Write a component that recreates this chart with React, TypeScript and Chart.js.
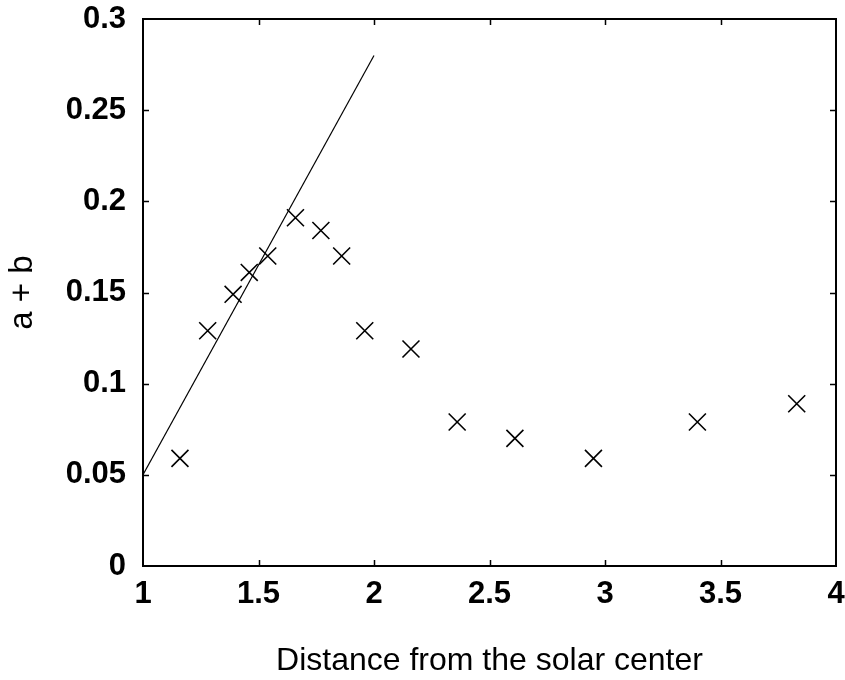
import { useEffect, useRef } from 'react';
import { Chart, registerables } from 'chart.js';

Chart.register(...registerables);

// Measured points (distance from the solar center, a + b)
const distance = [1.16, 1.28, 1.39, 1.46, 1.54, 1.66, 1.77, 1.86, 1.96, 2.16, 2.36, 2.61, 2.95, 3.4, 3.83];
const aPlusB = [0.059, 0.129, 0.149, 0.161, 0.17, 0.191, 0.184, 0.17, 0.129, 0.119, 0.079, 0.07, 0.059, 0.079, 0.089];

// Straight fitted line
const fitX = [1, 2];
const fitY = [0.05, 0.28];

// Axis ticks
const xTickValues = [1, 1.5, 2, 2.5, 3, 3.5, 4];
const xTickLabels = ['1', '1.5', '2', '2.5', '3', '3.5', '4'];
const yTickValues = [0, 0.05, 0.1, 0.15, 0.2, 0.25, 0.3];
const yTickLabels = ['0', '0.05', '0.1', '0.15', '0.2', '0.25', '0.3'];

const FONT = "'Liberation Sans', Arial, Helvetica, sans-serif";

const framePlugin = {
  id: 'frame',
  afterDraw(chart: any) {
    const { ctx, chartArea } = chart;
    const { left, right, top, bottom } = chartArea;
    const xs = chart.scales.x;
    const ys = chart.scales.y;
    const tl = 6;
    ctx.save();
    ctx.strokeStyle = '#000';
    ctx.lineWidth = 1.5;
    ctx.beginPath();
    xTickValues.forEach((v) => {
      if (v === xs.min || v === xs.max) return;
      const px = Math.round(xs.getPixelForValue(v)) + 0.5;
      ctx.moveTo(px, bottom);
      ctx.lineTo(px, bottom - tl);
      ctx.moveTo(px, top);
      ctx.lineTo(px, top + tl);
    });
    yTickValues.forEach((v) => {
      if (v === ys.min || v === ys.max) return;
      const py = Math.round(ys.getPixelForValue(v)) + 0.5;
      ctx.moveTo(left, py);
      ctx.lineTo(left + tl, py);
      ctx.moveTo(right, py);
      ctx.lineTo(right - tl, py);
    });
    ctx.stroke();
    ctx.lineWidth = 2;
    ctx.strokeRect(left, top, right - left, bottom - top);
    ctx.restore();
  },
};

function zeroPad(scale: any) {
  scale.paddingLeft = 0;
  scale.paddingRight = 0;
  scale.paddingTop = 0;
  scale.paddingBottom = 0;
}

export default function App() {
  const ref = useRef<HTMLCanvasElement | null>(null);

  useEffect(() => {
    if (!ref.current) return;
    const chart = new Chart(ref.current, {
      type: 'scatter',
      data: {
        datasets: [
          {
            type: 'line',
            data: fitX.map((x, i) => ({ x, y: fitY[i] })),
            borderColor: '#000',
            borderWidth: 1.2,
            pointRadius: 0,
            fill: false,
          } as any,
          {
            type: 'scatter',
            data: distance.map((x, i) => ({ x, y: aPlusB[i] })),
            pointStyle: 'crossRot',
            pointRadius: 12,
            pointHoverRadius: 12,
            borderColor: '#000',
            backgroundColor: '#000',
            borderWidth: 1.6,
          },
        ],
      },
      options: {
        animation: false,
        responsive: false,
        events: [],
        layout: { autoPadding: false, padding: { left: 0, right: 9, top: 19, bottom: 0 } },
        plugins: {
          legend: { display: false },
          tooltip: { enabled: false },
        },
        scales: {
          x: {
            type: 'linear',
            min: 1,
            max: 4,
            grid: { display: false, drawTicks: false },
            border: { display: false },
            afterBuildTicks: (scale: any) => {
              scale.ticks = xTickValues.map((v) => ({ value: v }));
            },
            afterFit: (scale: any) => {
              scale.height = 114;
              zeroPad(scale);
            },
            ticks: {
              color: '#000',
              padding: 10,
              maxRotation: 0,
              font: { family: FONT, size: 31, weight: 'bold' },
              callback: (_v: any, i: number) => xTickLabels[i],
            },
            title: {
              display: true,
              text: 'Distance from the solar center',
              color: '#000',
              font: { family: FONT, size: 32, weight: 'normal' },
              padding: { top: 0, bottom: 0 },
            },
          },
          y: {
            type: 'linear',
            min: 0,
            max: 0.3,
            grid: { display: false, drawTicks: false },
            border: { display: false },
            afterBuildTicks: (scale: any) => {
              scale.ticks = yTickValues.map((v) => ({ value: v }));
            },
            afterFit: (scale: any) => {
              scale.width = 143;
              zeroPad(scale);
            },
            ticks: {
              color: '#000',
              padding: 17,
              font: { family: FONT, size: 31, weight: 'bold' },
              callback: (_v: any, i: number) => yTickLabels[i],
            },
            title: {
              display: true,
              text: 'a + b',
              color: '#000',
              font: { family: FONT, size: 33, weight: 'normal' },
              padding: { top: 3, bottom: 0 },
            },
          },
        },
      },
      plugins: [framePlugin],
    });
    return () => chart.destroy();
  }, []);

  return (
    <canvas
      ref={ref}
      width={845}
      height={680}
      style={{ position: 'absolute', left: 0, top: 0, display: 'block', background: '#fff' }}
    />
  );
}
